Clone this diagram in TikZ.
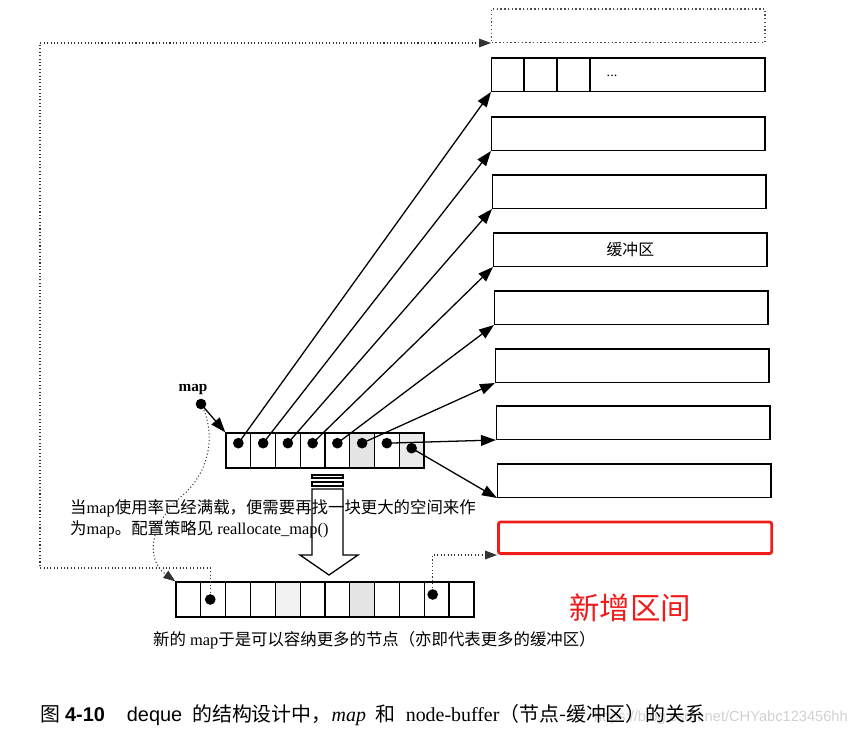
\documentclass[tikz,border=0pt]{standalone}
\usepackage{fontspec}
\setmainfont{Liberation Serif}
\setsansfont{Liberation Sans}
\newfontfamily\cjk{Noto Sans CJK SC}
\usetikzlibrary{arrows.meta, positioning, calc}
\definecolor{newred}{RGB}{240,28,28}
\tikzset{
    buf_box/.style={
        rectangle, draw=black, line width=1.2pt, anchor=south west,
        minimum width=8.2cm, minimum height=1.0cm, inner sep=0pt,
        font=\cjk\fontsize{13.5}{16}\selectfont
    },
    map_cell/.style={
        rectangle, draw=black, line width=1.1pt, inner sep=0pt,
        minimum width=0.745cm, minimum height=1.05cm
    },
    ptr_arrow/.style={
        -{Triangle[length=0.45cm, width=0.32cm]}, line width=1.1pt, draw=black
    },
    dot_arrow/.style={
        -{Triangle[length=0.36cm, width=0.26cm]}, dotted, line width=0.9pt, draw=black!80
    },
    note_txt/.style={
        font=\fontsize{14}{17}\selectfont, inner sep=0pt
    }
}

\begin{document}
\begin{tikzpicture}[x=0.03cm, y=-0.03cm]
    \useasboundingbox (0,0) rectangle (853,735);

    % Buffers
    \node[buf_box, dotted, draw=black!70] (buf0) at (491, 43) {};
    \node[buf_box] (buf1) at (491, 92) {};
    \node[buf_box] (buf2) at (491, 151) {};
    \node[buf_box] (buf3) at (492, 209) {};
    \node[buf_box] (buf4) at (493, 267) {缓冲区};
    \node[buf_box] (buf5) at (494, 325) {};
    \node[buf_box] (buf6) at (495, 383) {};
    \node[buf_box] (buf7) at (496, 440) {};
    \node[buf_box] (buf8) at (497, 498) {};
    \node[buf_box, draw=newred, line width=2.4pt, rounded corners=2pt,
          minimum height=0.95cm] (buf9) at (497, 555) {};
    \foreach \k in {1,2,3}
        \draw[line width=1.2pt] ([xshift=\k*0.99cm]buf1.south west) -- ([xshift=\k*0.99cm]buf1.north west);
    \node[font=\fontsize{12}{14}\selectfont, inner sep=0pt] (more) at (612, 76) {...};

    % Old map
    \node[font=\bfseries\fontsize{13}{15}\selectfont, inner sep=0pt] (maplbl) at (193, 390) {map};
    \coordinate (mapdot) at (201, 404);
    \foreach \i/\shade in {1/white,2/white,3/white,4/white,5/white,6/black!10,7/white,8/black!8}
        \node[map_cell, fill=\shade] (m\i) at ({226+24.75*(\i-0.5)}, 450.5) {};
    \foreach \i in {1,...,7}
        \coordinate (d\i) at ([yshift=0.22cm]m\i.center);
    \coordinate (d8) at ([yshift=0.07cm]m8.center);

    % New map
    \foreach \i/\shade in {1/white,2/white,3/white,4/white,5/black!5,6/white,7/white,8/black!10,9/white,10/white,11/white,12/white}
        \node[map_cell, fill=\shade] (n\i) at ({176+24.83*(\i-0.5)}, 599.5) {};
    \coordinate (e2) at ([xshift=-0.09cm]n2.center);
    \coordinate (e11) at ([xshift=-0.12cm, yshift=0.15cm]n11.center);
    \coordinate (lcorner) at (40, 568);

    % Pointers
    \foreach \i in {1,...,8}
        \draw[ptr_arrow] (d\i) -- (buf\i.south west);
    \draw[ptr_arrow] (mapdot) -- (m1.north west);
    \draw[dot_arrow] (mapdot) .. controls (214,428) and (214,468) .. (182,496)
        .. controls (148,526) and (146,560) .. (n1.north west);
    \draw[dot_arrow] (e2) |- (lcorner) |- (buf0.south west);
    \draw[dot_arrow] (e11) |- (buf9.south west);
    \foreach \i in {1,...,8}
        \fill (d\i) circle (0.16cm);
    \fill (mapdot) circle (0.16cm);
    \fill (e2) circle (0.16cm);
    \fill (e11) circle (0.16cm);

    % Grow arrow
    \draw[line width=1.1pt] (312,475) rectangle (343,478);
    \draw[line width=1.1pt] (312,482) rectangle (343,486);
    \draw[line width=1.1pt, fill=white] (312,489) -- (343,489) -- (343,555) -- (358,555)
        -- (329,575) -- (300,555) -- (312,555) -- cycle;

    % Texts
    \node[note_txt, anchor=west] (note_a) at (70, 508)
        {{\cjk 当}map{\cjk 使用率已经满载，便需要再找一块更大的空间来作}};
    \node[note_txt, anchor=west] (note_b) at (70, 529)
        {{\cjk 为}map{\cjk 。配置策略见} reallocate\_map()};
    \node[note_txt, anchor=west] (note_c) at (153, 640)
        {{\cjk 新的} map{\cjk 于是可以容纳更多的节点（亦即代表更多的缓冲区）}};
    \node[font=\cjk\fontsize{26}{30}\selectfont, text=newred, inner sep=0pt] (newzone) at (630, 608) {新增区间};
    \node[font=\sffamily\fontsize{12.5}{15}\selectfont, text=black!18, anchor=base east, inner sep=0pt] (wmark) at (848, 721)
        {https://blog.csdn.net/CHYabc123456hh};
    \node[font=\fontsize{17}{20}\selectfont, anchor=base west, inner sep=0pt] (caption) at (40, 721)
        {{\cjk 图}\ {\sffamily\bfseries 4-10}\hspace{1.1em}{\sffamily deque}\ \ {\cjk 的结构设计中，}\textit{map}\ \ {\cjk 和}\ \ node-buffer{\cjk （节点-缓冲区）的关系}};
\end{tikzpicture}
\end{document}
